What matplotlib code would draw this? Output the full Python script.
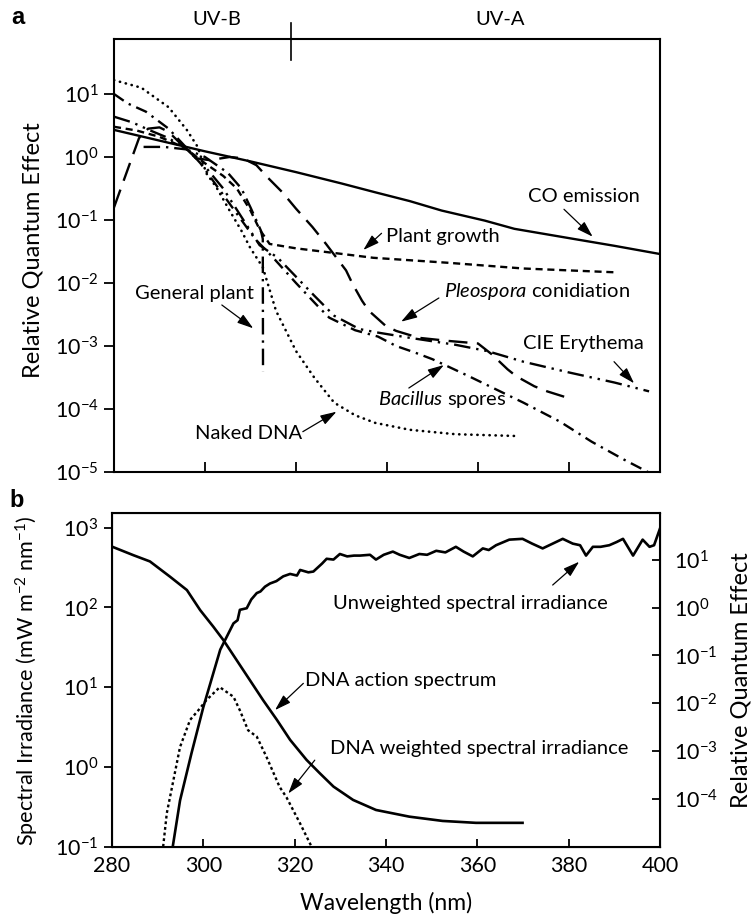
import numpy as np
import matplotlib
matplotlib.use('Agg')
import matplotlib.pyplot as plt
from matplotlib.ticker import LogFormatterMathtext, FixedLocator, NullLocator
import matplotlib.transforms as mtransforms

plt.rcParams['font.family'] = ['Lato', 'DejaVu Sans']
plt.rcParams['mathtext.fontset'] = 'custom'
plt.rcParams['mathtext.rm'] = 'Lato'
plt.rcParams['mathtext.it'] = 'Lato:italic'
plt.rcParams['axes.unicode_minus'] = False

# ---- panel a: action spectra, log10(relative quantum effect) ----
co_nm = [280, 290, 300, 310, 320, 330, 337.4, 345, 352, 361.5, 368, 381, 390, 400]
co_log = [0.43, 0.26, 0.09, -0.07, -0.24, -0.42, -0.56, -0.70, -0.85, -1.01, -1.14, -1.30, -1.41, -1.54]

dna_nm = [280, 286, 292, 296, 298.4, 300.3, 302.5, 305.4, 308, 310, 312.7, 315.6, 320, 324,
          328.4, 333, 337.4, 345, 355, 369]
dna_log = [1.22, 1.10, 0.79, 0.43, 0.16, -0.26, -0.48, -0.85, -1.17, -1.45, -1.75, -2.44, -3.08, -3.5,
           -3.9, -4.1, -4.22, -4.33, -4.40, -4.43]

growth_nm = [280, 285, 290, 295.5, 300, 304, 307, 310, 312, 314.2, 320, 328, 337, 353.6, 370, 390]
growth_log = [0.48, 0.42, 0.32, 0.15, -0.10, -0.30, -0.50, -0.85, -1.15, -1.38, -1.45, -1.52, -1.60,
              -1.68, -1.77, -1.83]

genplant_nm = [286.5, 291, 296, 300, 305, 308, 310, 312.3, 312.7, 312.75]
genplant_log = [0.16, 0.16, 0.12, 0.0, -0.25, -0.50, -0.80, -1.17, -1.30, -3.40]

pleo_nm = [280, 283, 285.5, 287.5, 290, 292, 295.5, 298, 301, 305.4, 308.3, 311.3, 313.7, 317, 320,
           323.6, 326.6, 328.8, 331, 332.4, 334.5, 336, 339.7, 342, 347, 353.6, 360, 363, 366.5,
           368.4, 372.4, 375.2, 379.6]
pleo_log = [-0.80, -0.20, 0.30, 0.45, 0.47, 0.40, 0.15, -0.02, -0.05, 0.0, -0.02, -0.13, -0.32, -0.56,
            -0.82, -1.11, -1.38, -1.59, -1.80, -2.01, -2.28, -2.44, -2.68, -2.76, -2.87, -2.92, -2.96,
            -3.13, -3.37, -3.48, -3.64, -3.72, -3.82]

cie_nm = [280, 284, 288, 292, 296, 300, 304, 308, 312, 316, 320, 324, 328.4, 333.9, 337.4, 345, 355,
          362, 370, 380, 390, 397.6]
cie_log = [0.64, 0.55, 0.42, 0.30, 0.12, -0.15, -0.50, -0.95, -1.40, -1.60, -1.90, -2.20, -2.52, -2.73,
           -2.78, -2.87, -2.98, -3.08, -3.25, -3.42, -3.58, -3.72]

bac_nm = [280, 283, 287, 292, 296, 299, 303, 307, 311, 315, 320, 324.7, 327.3, 333, 338, 342, 346,
          350, 358, 370, 378, 385, 392, 400]
bac_log = [1.0, 0.85, 0.72, 0.45, 0.14, -0.10, -0.50, -0.90, -1.30, -1.60, -2.00, -2.36, -2.55, -2.75,
           -2.85, -3.00, -3.10, -3.21, -3.48, -3.90, -4.20, -4.52, -4.80, -5.10]

# ---- panel b ----
irr_nm = [293.3, 294.9, 297.4, 300, 303.7, 306.6, 307.5, 308, 309.5, 310.5, 311.7, 312.5, 313.5, 314.6,
          316, 317.5, 319, 320.5, 321.2, 323, 324.1, 326, 327, 328.5, 329.9, 331.5, 333, 334.3, 336.5,
          337.8, 339.5, 341.5, 343, 345.1, 347.3, 349, 351, 353, 355.3, 357, 359, 361.2, 362.5, 364.1,
          367, 369.9, 372, 374.3, 376.5, 378.7, 380.9, 382.5, 383.8, 385.3, 387, 388.9, 390.5, 391.9,
          394.1, 396.2, 397.7, 398.7, 400]
irr_log = [-1.0, -0.42, 0.17, 0.75, 1.47, 1.80, 1.84, 1.97, 1.99, 2.10, 2.18, 2.20, 2.26, 2.30,
           2.33, 2.39, 2.42, 2.40, 2.47, 2.44, 2.45, 2.55, 2.61, 2.60, 2.67, 2.64, 2.65, 2.65, 2.66,
           2.60, 2.66, 2.70, 2.66, 2.62, 2.67, 2.66, 2.71, 2.69, 2.76, 2.70, 2.64, 2.74, 2.72, 2.78,
           2.85, 2.86, 2.80, 2.74, 2.80, 2.86, 2.80, 2.78, 2.65, 2.76, 2.76, 2.78, 2.82, 2.86,
           2.65, 2.85, 2.76, 2.78, 2.99]

action_nm = [280, 284.7, 288.3, 292.7, 296.4, 299.3, 302.2, 304.4, 307.3, 310.2, 313.1, 316.1, 319,
             322.6, 325.5, 328.5, 332.8, 337.8, 345.1, 352.4, 359.7, 369.9]
action_log = [1.28, 1.10, 0.97, 0.65, 0.37, -0.05, -0.40, -0.68, -1.10, -1.52, -1.94, -2.35, -2.77,
              -3.19, -3.47, -3.75, -4.03, -4.24, -4.38, -4.47, -4.51, -4.51]

weighted_nm = [291.2, 292, 294.9, 297.1, 298.9, 300.7, 303.6, 306.6, 308, 309.8, 311.7, 313.8, 316.7,
               318.2, 321.2, 323.7]
weighted_log = [-1.0, -0.58, 0.25, 0.59, 0.71, 0.84, 1.0, 0.88, 0.71, 0.46, 0.38, 0.13, -0.25,
                -0.38, -0.71, -1.0]

ANN = 14.5
TICK = 15.5
LAB = 17

fig = plt.figure(figsize=(7.52, 9.16), dpi=100)

# ================= panel a =================
ax1 = fig.add_axes([114 / 752, 1 - 472 / 916, 546 / 752, 433 / 916])
ax1.set_yscale('log')
lw = 1.7
ax1.plot(co_nm, 10.0 ** np.array(co_log), color='black', lw=lw, ls='-')
ax1.plot(dna_nm, 10.0 ** np.array(dna_log), color='black', lw=1.9, ls=(0, (0.1, 2.2)),
         dash_capstyle='round')
ax1.plot(growth_nm, 10.0 ** np.array(growth_log), color='black', lw=lw, ls=(0, (3, 2)))
ax1.plot(genplant_nm, 10.0 ** np.array(genplant_log), color='black', lw=lw,
         ls=(0, (7, 2.5, 1, 2.5)))
ax1.plot(pleo_nm, 10.0 ** np.array(pleo_log), color='black', lw=lw, ls=(0, (8, 4)))
ax1.plot(cie_nm, 10.0 ** np.array(cie_log), color='black', lw=lw,
         ls=(0, (7, 2.5, 1, 2.5, 1, 2.5)))
ax1.plot(bac_nm, 10.0 ** np.array(bac_log), color='black', lw=lw, ls=(0, (5, 2.5, 1, 2.5)))

ax1.set_xlim(280, 400)
ax1.set_ylim(1e-5, 10 ** 1.873)
ax1.xaxis.set_major_locator(FixedLocator([300, 320, 340, 360, 380]))
ax1.xaxis.set_minor_locator(NullLocator())
ax1.yaxis.set_major_locator(FixedLocator([1e-5, 1e-4, 1e-3, 1e-2, 1e-1, 1e0, 1e1]))
ax1.yaxis.set_minor_locator(NullLocator())
ax1.yaxis.set_major_formatter(LogFormatterMathtext())
ax1.tick_params(axis='x', direction='in', length=7, width=1.3, labelbottom=False)
ax1.tick_params(axis='y', direction='out', length=7, width=1.3, labelsize=TICK, pad=4)
for s in ax1.spines.values():
    s.set_linewidth(1.5)
fig.text(33 / 752, 1 - 250 / 916, 'Relative Quantum Effect', fontsize=LAB, rotation=90,
         ha='center', va='center')

arrow = dict(arrowstyle='-|>,head_length=0.7,head_width=0.22', lw=0.9, color='black',
             shrinkA=0, shrinkB=0, mutation_scale=14)


def label(ax, x, y, txt, tail, tip, ha='left'):
    ax.annotate('', xy=tip, xytext=tail, arrowprops=arrow)
    ax.text(x, y, txt, fontsize=ANN, ha=ha, va='center')


def lg(v):
    return 10.0 ** v


label(ax1, 383.3, lg(-0.63), 'CO emission', (378.9, lg(-0.83)), (385.2, lg(-1.265)), ha='center')
label(ax1, 339.8, lg(-1.265), 'Plant growth', (338.8, lg(-1.211)), (334.8, lg(-1.476)))
label(ax1, 352.6, lg(-2.138), r'$\mathit{Pleospora}$ conidiation', (351.4, lg(-2.238)),
      (343.1, lg(-2.614)))
label(ax1, 369.8, lg(-2.957), 'CIE Erythema', (389.9, lg(-3.249)), (394.3, lg(-3.592)))
label(ax1, 338.0, lg(-3.857), r'$\mathit{Bacillus}$ spores', (344.8, lg(-3.667)),
      (352.5, lg(-3.302)))
label(ax1, 284.6, lg(-2.163), 'General plant', (303.7, lg(-2.349)), (310.6, lg(-2.719)))
label(ax1, 297.8, lg(-4.386), 'Naked DNA', (321.5, lg(-4.36)), (328.9, lg(-4.043)))

trans = mtransforms.blended_transform_factory(ax1.transData, ax1.transAxes)
ax1.text(302.6, 1.044, 'UV-B', transform=trans, ha='center', va='center', fontsize=14.5)
ax1.text(364.8, 1.044, 'UV-A', transform=trans, ha='center', va='center', fontsize=14.5)
ax1.plot([318.8, 318.8], [0.9515, 1.037], transform=trans, color='black', lw=1.2, clip_on=False)

fig.text(18 / 752, 1 - 17 / 916, 'a', fontsize=17, fontweight='bold',
         family='Liberation Sans', ha='center', va='center')

# ================= panel b =================
ax2 = fig.add_axes([112 / 752, 1 - 846.7 / 916, 548 / 752, 333.7 / 916])
ax2.set_yscale('log')
ax2.plot(irr_nm, 10.0 ** np.array(irr_log), color='black', lw=1.9)
ax2.plot(weighted_nm, 10.0 ** np.array(weighted_log), color='black', lw=1.7, ls=(0, (1.2, 1.2)))
ax2.set_xlim(280, 400)
ax2.set_ylim(0.1, 10 ** 3.184)
ax2.xaxis.set_major_locator(FixedLocator([280, 300, 320, 340, 360, 380, 400]))
ax2.xaxis.set_minor_locator(NullLocator())
ax2.yaxis.set_major_locator(FixedLocator([1e-1, 1e0, 1e1, 1e2, 1e3]))
ax2.yaxis.set_minor_locator(NullLocator())
ax2.yaxis.set_major_formatter(LogFormatterMathtext())
ax2.tick_params(axis='x', direction='in', length=6, width=1.3, labelsize=TICK, pad=7)
ax2.tick_params(axis='y', direction='out', length=6, width=1.3, labelsize=TICK, pad=4)
for s in ax2.spines.values():
    s.set_linewidth(1.5)
fig.text(386 / 752, 1 - 903 / 916, 'Wavelength (nm)', fontsize=16.5, ha='center', va='center')
fig.text(27 / 752, 1 - 681 / 916,
         r'Spectral Irradiance (mW m$^{\mathdefault{-2}}$ nm$^{\mathdefault{-1}}$)',
         fontsize=15.6, rotation=90, ha='center', va='center')

ax3 = ax2.twinx()
ax3.set_yscale('log')
ax3.plot(action_nm, 10.0 ** np.array(action_log), color='black', lw=1.9)
ax3.set_ylim(10 ** -5.01, 10 ** 1.985)
ax3.yaxis.set_major_locator(FixedLocator([1e-4, 1e-3, 1e-2, 1e-1, 1e0, 1e1]))
ax3.yaxis.set_minor_locator(NullLocator())
ax3.yaxis.set_major_formatter(LogFormatterMathtext())
ax3.tick_params(axis='y', direction='in', length=6, width=1.3, labelsize=TICK, pad=10)
fig.text(741 / 752, 1 - 680 / 916, 'Relative Quantum Effect', fontsize=LAB, rotation=90,
         ha='center', va='center')

label(ax2, 328.5, lg(2.051), 'Unweighted spectral irradiance', (376.5, lg(2.281)),
      (382.3, lg(2.573)))
label(ax2, 322.3, lg(1.089), 'DNA action spectrum', (321.9, lg(1.048)), (315.7, lg(0.713)))
label(ax2, 327.7, lg(0.232), 'DNA weighted spectral irradiance', (324.4, lg(0.085)),
      (318.6, lg(-0.333)))

fig.text(17 / 752, 1 - 500 / 916, 'b', fontsize=17, fontweight='bold',
         family='Liberation Sans', ha='center', va='center')

fig.savefig('out.png', dpi=100)
